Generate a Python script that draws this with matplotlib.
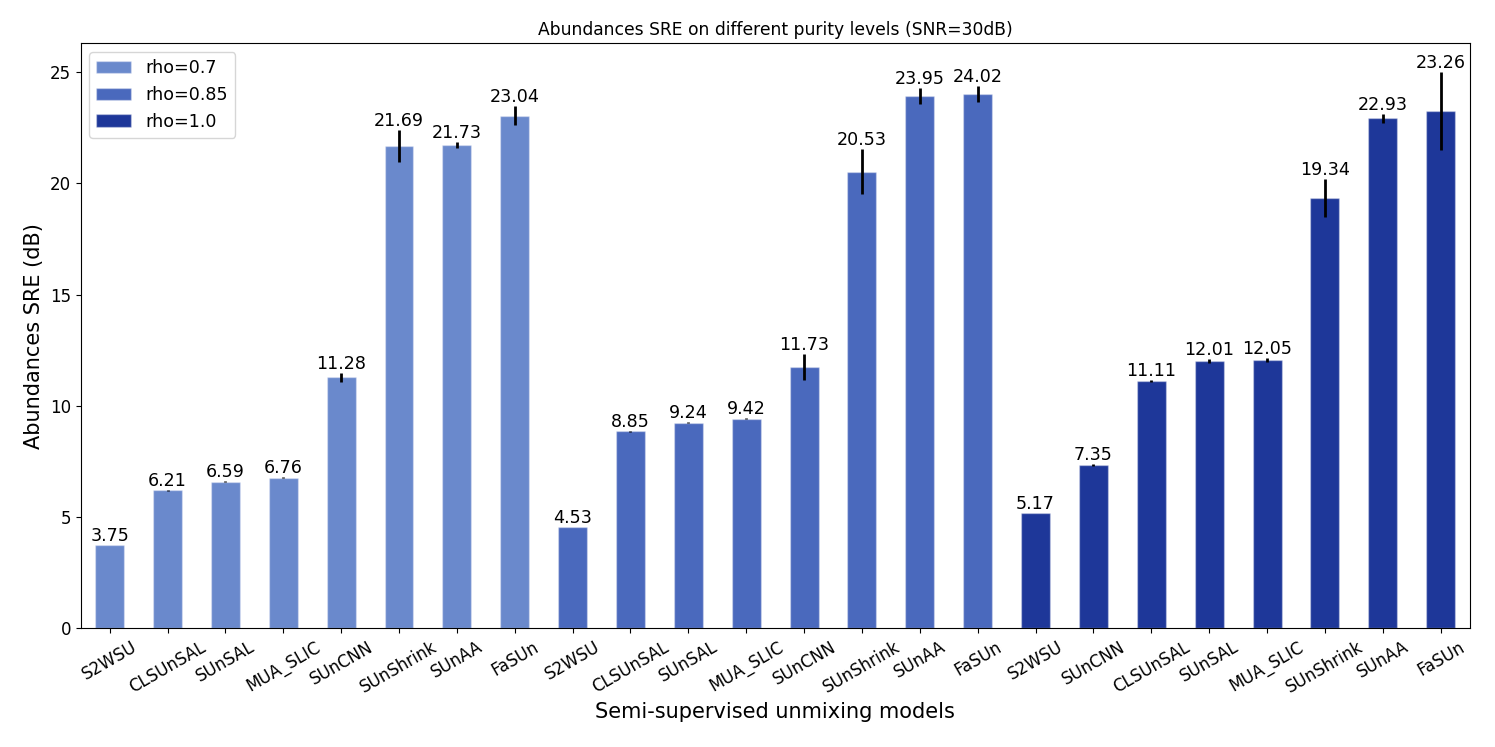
import matplotlib
matplotlib.use("Agg")
import matplotlib.pyplot as plt
import numpy as np

models_07 = ['S2WSU', 'CLSUnSAL', 'SUnSAL', 'MUA_SLIC', 'SUnCNN', 'SUnShrink', 'SUnAA', 'FaSUn']
sre_07 = [3.75, 6.21, 6.59, 6.76, 11.28, 21.69, 21.73, 23.04]
err_07 = [0.0, 0.02, 0.02, 0.02, 0.2, 0.72, 0.12, 0.43]

models_085 = ['S2WSU', 'CLSUnSAL', 'SUnSAL', 'MUA_SLIC', 'SUnCNN', 'SUnShrink', 'SUnAA', 'FaSUn']
sre_085 = [4.53, 8.85, 9.24, 9.42, 11.73, 20.53, 23.95, 24.02]
err_085 = [0.0, 0.03, 0.03, 0.03, 0.58, 1.0, 0.36, 0.38]

models_10 = ['S2WSU', 'SUnCNN', 'CLSUnSAL', 'SUnSAL', 'MUA_SLIC', 'SUnShrink', 'SUnAA', 'FaSUn']
sre_10 = [5.17, 7.35, 11.11, 12.01, 12.05, 19.34, 22.93, 23.26]
err_10 = [0.0, 0.05, 0.05, 0.08, 0.08, 0.85, 0.2, 1.77]

groups = [
    ('rho=0.7', models_07, sre_07, err_07, '#6a89cc'),
    ('rho=0.85', models_085, sre_085, err_085, '#4a69bd'),
    ('rho=1.0', models_10, sre_10, err_10, '#1e3799'),
]

fig, ax = plt.subplots(figsize=(14.95, 7.47), dpi=100)

ticklabels = []
start = 0
for label, names, vals, errs, col in groups:
    x = np.arange(start, start + len(vals))
    bars = ax.bar(x, vals, width=0.5, color=col, label=label,
                  yerr=errs, error_kw=dict(ecolor='black', elinewidth=2, capsize=0),
                  edgecolor=(1, 1, 1, 0.35), linewidth=1)
    ax.bar_label(bars, labels=['%.2f' % v for v in vals], padding=0, fontsize=12.6)
    ticklabels += names
    start += len(vals)

ax.set_xticks(np.arange(len(ticklabels)))
ax.set_xticklabels(ticklabels, rotation=30, fontsize=12)
ax.tick_params(axis='y', labelsize=12)
ax.set_xlim(-0.5, len(ticklabels) - 0.5)
ax.set_ylim(0, 26.3)
ax.set_xlabel('Semi-supervised unmixing models', fontsize=15)
ax.set_ylabel('Abundances SRE (dB)', fontsize=15)
ax.set_title('Abundances SRE on different purity levels (SNR=30dB)', fontsize=12.3)
ax.legend(loc='upper left', fontsize=12.6)

plt.subplots_adjust(left=0.054, right=0.983, top=0.942, bottom=0.159)
plt.savefig('out.png')
